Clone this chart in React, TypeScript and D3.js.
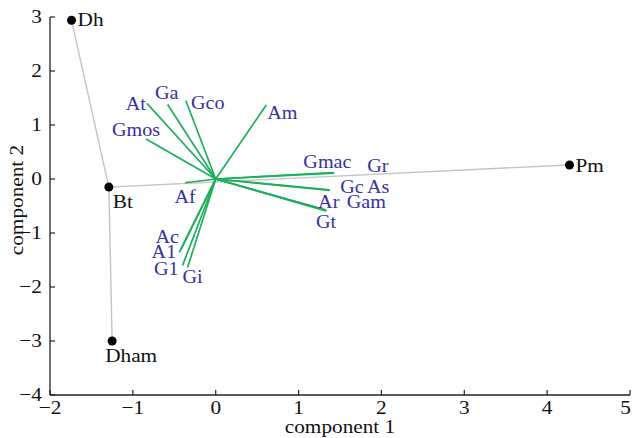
import React from 'react';
import * as d3 from 'd3';

// variable loadings (component 1, component 2)
const varNames = ['At', 'Ga', 'Gco', 'Gmos', 'Am', 'Af', 'Ac', 'A1', 'G1', 'Gi', 'Gmac', 'Gr', 'Gc', 'As', 'Ar', 'Gam', 'Gt'];
const varC1 = [-0.83, -0.58, -0.36, -0.84, 0.61, -0.37, -0.42, -0.44, -0.40, -0.34, 1.42, 1.43, 1.37, 1.38, 1.32, 1.34, 1.33];
const varC2 = [1.40, 1.38, 1.45, 0.74, 1.37, -0.07, -1.31, -1.36, -1.60, -1.64, 0.12, 0.11, -0.20, -0.21, -0.57, -0.58, -0.59];

// sample scores
const sampleNames = ['Dh', 'Bt', 'Dham', 'Pm'];
const sampleC1 = [-1.74, -1.29, -1.25, 4.27];
const sampleC2 = [2.94, -0.15, -3.0, 0.26];
// links between samples (indices)
const links: [number, number][] = [[0, 1], [1, 2], [1, 3]];

const xTicks = [-2, -1, 0, 1, 2, 3, 4, 5];
const yTicks = [-4, -3, -2, -1, 0, 1, 2, 3];

// label placement, pixels from the tip
const varNudge: Record<string, [number, number, string]> = {
  At: [-1, 7, 'end'], Ga: [-1, -5, 'middle'], Gco: [5, 8, 'start'], Gmos: [-10, -3, 'middle'],
  Am: [1, 14, 'start'], Af: [0, 20, 'middle'], Ac: [-2, -7, 'end'], A1: [-3, 6, 'end'],
  G1: [-4, 10, 'end'], Gi: [-5, 15, 'start'], Gmac: [-30, -5, 'start'], Gr: [33, -1, 'start'],
  Gc: [11, 3, 'start'], As: [37, 3, 'start'], Ar: [-7, -2, 'start'], Gam: [20, -2, 'start'],
  Gt: [-10, 17, 'start'],
};
const sampleNudge: Record<string, [number, number]> = {
  Dh: [6, 6], Bt: [4, 21], Dham: [-7, 21], Pm: [6, 7],
};

const W = 633, H = 438;
const FONT = '"Liberation Serif", "Times New Roman", serif';
const SX = 1.12;

const Txt = ({ x, y, anchor = 'start', fill = '#111', size = 17, rotate = 0, children }: any) => (
  <text
    transform={`translate(${x},${y}) rotate(${rotate}) scale(${SX},1)`}
    textAnchor={anchor}
    fontFamily={FONT}
    fontSize={size}
    fill={fill}
  >
    {children}
  </text>
);

const App: React.FC = () => {
  const x = d3.scaleLinear().domain([-2, 5]).range([50, 630]);
  const y = d3.scaleLinear().domain([-4, 3]).range([395, 17]);
  const fmt = (v: number) => (v < 0 ? '\u2212' + Math.abs(v) : String(v));

  return (
    <svg width={W} height={H} style={{ position: 'absolute', left: 0, top: 0, background: '#fff' }}>
      {/* links between samples */}
      {links.map(([a, b], i) => (
        <line key={'l' + i} x1={x(sampleC1[a])} y1={y(sampleC2[a])} x2={x(sampleC1[b])} y2={y(sampleC2[b])}
          stroke="#c4c4c4" strokeWidth={1.4} />
      ))}
      {/* loading vectors */}
      {varNames.map((n, i) => (
        <line key={'v' + n} x1={x(0)} y1={y(0)} x2={x(varC1[i])} y2={y(varC2[i])} stroke="#1fae5c" strokeWidth={1.7} />
      ))}
      {varNames.map((n, i) => {
        const [dx, dy, anchor] = varNudge[n];
        return (
          <Txt key={'t' + n} x={x(varC1[i]) + dx} y={y(varC2[i]) + dy} anchor={anchor} fill="#3730a3" size={18}>
            {n}
          </Txt>
        );
      })}
      {/* samples */}
      {sampleNames.map((n, i) => (
        <g key={'s' + n}>
          <circle cx={x(sampleC1[i])} cy={y(sampleC2[i])} r={4.5} fill="#000" />
          <Txt x={x(sampleC1[i]) + sampleNudge[n][0]} y={y(sampleC2[i]) + sampleNudge[n][1]} size={19}>{n}</Txt>
        </g>
      ))}
      {/* axes */}
      <line x1={50} y1={y(3)} x2={50} y2={y(-4)} stroke="#222" strokeWidth={1.3} />
      <line x1={50} y1={y(-4)} x2={x(5)} y2={y(-4)} stroke="#222" strokeWidth={1.3} />
      {yTicks.map(t => (
        <g key={'yt' + t}>
          <line x1={50} x2={55} y1={y(t)} y2={y(t)} stroke="#222" strokeWidth={1.2} />
          <Txt x={42} y={y(t) + 6} anchor="end" size={19}>{fmt(t)}</Txt>
        </g>
      ))}
      {xTicks.map((t, i) => (
        <g key={'xt' + t}>
          <line x1={x(t)} x2={x(t)} y1={y(-4)} y2={y(-4) - 5} stroke="#222" strokeWidth={1.2} />
          <Txt x={i === xTicks.length - 1 ? W - 2 : x(t)} y={y(-4) + 19} anchor={i === xTicks.length - 1 ? 'end' : 'middle'} size={19}>
            {fmt(t)}
          </Txt>
        </g>
      ))}
      <Txt x={340} y={433} anchor="middle" size={19}>component 1</Txt>
      <Txt x={23} y={200} anchor="middle" size={19} rotate={-90}>component 2</Txt>
    </svg>
  );
};

export default App;
